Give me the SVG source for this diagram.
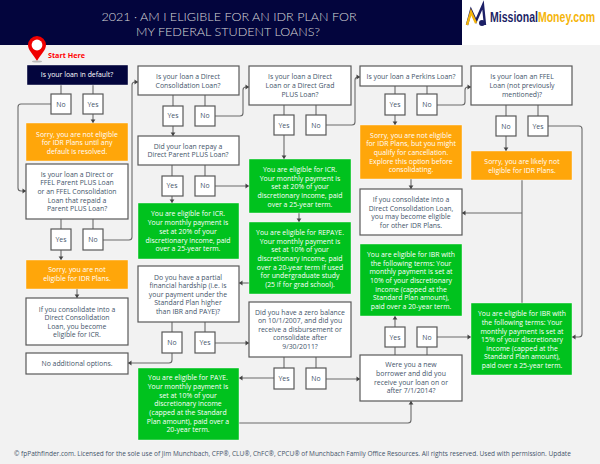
<svg xmlns="http://www.w3.org/2000/svg" width="600" height="464" viewBox="0 0 600 464">
<style>
text{font-family:"Open Sans","Noto Sans","DejaVu Sans",sans-serif;font-size:6.9px;text-anchor:middle;fill:#44546a}
.w{fill:#fff}
.q{fill:#fff;stroke:#595959;stroke-width:1.2}
.g{fill:#00c21e;stroke:#fff;stroke-width:.4}
.o{fill:#ffa60a;stroke:#fff;stroke-width:.4}
.n{fill:#03053d;stroke:#fff;stroke-width:.4}
#connectors path{fill:none;stroke:#6b6b6b;stroke-width:1.1;marker-end:url(#a)}
#connectors path.p{marker-end:none}
</style>
<defs>
<marker id="a" markerUnits="userSpaceOnUse" markerWidth="6" markerHeight="6" refX="5" refY="3" orient="auto"><path d="M1.5 .6L5 3L1.5 5.4Z" fill="#444"/></marker>
</defs>
<rect width="600" height="464" fill="#f2f2f2"/>
<g id="header">
<rect width="462" height="45" fill="#03053d"/>
<rect x="462" width="138" height="45" fill="#fff"/>
<text x="229" y="21" style="font-family:Lato,sans-serif;font-weight:300;font-size:12.6px;fill:#d9d9d9">2021 · AM I ELIGIBLE FOR AN IDR PLAN FOR</text>
<text x="228" y="35.5" style="font-family:Lato,sans-serif;font-weight:300;font-size:12.6px;fill:#d9d9d9">MY FEDERAL STUDENT LOANS?</text>
</g>
<g id="logo">
<path d="M467 25L471 10L476 21L483 5L485 25" fill="none" stroke="#1c1f66" stroke-width="2.4"/>
<path d="M467 25L471 12L476 23" fill="none" stroke="#f5b50a" stroke-width="2.4"/>
<circle cx="482" cy="23" r="3" fill="#1c1f66"/>
<text x="490" y="22" textLength="105" lengthAdjust="spacingAndGlyphs" style="font-family:'Liberation Sans Narrow','Liberation Sans',sans-serif;font-weight:700;font-size:14px;text-anchor:start;fill:#1c1f66">Missional<tspan style="fill:#f5b50a">Money.com</tspan></text>
</g>
<g id="start">
<path d="M37 61C33 54 28 50 28 45A9 9 0 0 1 46 45C46 50 41 54 37 61Z" fill="#f00000"/>
<circle cx="37" cy="45" r="5.4" fill="#fff"/>
<ellipse cx="37" cy="61.500" rx="5" ry="1" fill="#bbb"/>
<text x="48" y="57.500" style="text-anchor:start;fill:#f00;font-weight:700;font-size:7.200px">Start Here</text>
</g>
<g id="connectors">
<path class="p" d="M61 85V94M93 85V94"/>
<path d="M51 104H21Q18 104 18 107V188Q18 191 21 191H26"/>
<path d="M93 114V123"/>
<path class="p" d="M61 219V229M93 219V229"/>
<path d="M103 240H129Q132 240 132 237V85Q132 82 135 82H138"/>
<path d="M61 250V260"/>
<path d="M77 289V298"/>
<path class="p" d="M173 95V106M205 95V106"/>
<path d="M173 126V136"/>
<path class="p" d="M172 165V176M205 165V176"/>
<path d="M172 196V203"/>
<path d="M215 186H249"/>
<path d="M215 116H240Q243 116 243 113V90Q243 87 246 87H249"/>
<path class="p" d="M284 105V115M316 105V115"/>
<path d="M284 135V159"/>
<path d="M326 125H352Q355 125 355 122V80Q355 77 358 77H360"/>
<path d="M299 213V222"/>
<path d="M249 283H239"/>
<path class="p" d="M172 322V332M205 322V332"/>
<path d="M172 353V360Q172 363 169 363H128"/>
<path d="M215 343H249"/>
<path class="p" d="M284 357V368M316 357V368"/>
<path d="M274 378H239"/>
<path d="M326 379H360"/>
<path d="M239 423H408Q411 423 411 420V401"/>
<path class="p" d="M395 355V347M427 355V347"/>
<path d="M395 327V316"/>
<path d="M437 337H471"/>
<path class="p" d="M395 86V94M427 86V94"/>
<path d="M395 115V125"/>
<path d="M411 179V189"/>
<path d="M437 105H462Q465 105 465 102V90Q465 87 468 87H471"/>
<path class="p" d="M506 105V116M538 105V116"/>
<path d="M506 136V151"/>
<path d="M548 126H579Q582 126 582 129V334Q582 337 579 337H572"/>
<path class="p" d="M522 180V303"/>
<path d="M522 213H462"/>
</g>
<g id="n1"><rect class="n" x="27" y="65" width="101" height="20"/><text class="w" x="77" y="77">Is your loan in default?</text></g>
<g id="n2"><rect class="q" x="51" y="94" width="20" height="20"/><text x="61" y="106.500">No</text></g>
<g id="n3"><rect class="q" x="83" y="94" width="20" height="20"/><text x="93" y="106.500">Yes</text></g>
<g id="n4"><rect class="o" x="26" y="123" width="102" height="38"/><text class="w" x="77" y="136.500">Sorry, you are not eligible</text><text class="w" x="77" y="145">for IDR Plans until any</text><text class="w" x="77" y="153.500">default is resolved.</text></g>
<g id="n5"><rect class="q" x="26" y="164" width="102" height="55"/><text x="77" y="176.500">Is your loan a Direct or</text><text x="77" y="185">FFEL Parent PLUS Loan</text><text x="77" y="193.500">or an FFEL Consolidation</text><text x="77" y="202.500">Loan that repaid a</text><text x="77" y="211">Parent PLUS Loan?</text></g>
<g id="n6"><rect class="q" x="51" y="229" width="20" height="21"/><text x="61" y="242">Yes</text></g>
<g id="n7"><rect class="q" x="83" y="229" width="20" height="21"/><text x="93" y="242">No</text></g>
<g id="n8"><rect class="o" x="26" y="260" width="102" height="29"/><text class="w" x="77" y="272">Sorry, you are not</text><text class="w" x="77" y="280.500">eligible for IDR Plans.</text></g>
<g id="n9"><rect class="q" x="26" y="298" width="102" height="47"/><text x="77" y="311.500">If you consolidate into a</text><text x="77" y="320">Direct Consolidation</text><text x="77" y="328.500">Loan, you become</text><text x="77" y="337">eligible for ICR.</text></g>
<g id="n10"><rect class="q" x="26" y="353" width="102" height="21"/><text x="77" y="365.500">No additional options.</text></g>
<g id="n11"><rect class="q" x="138" y="66" width="101" height="29"/><text x="188" y="79">Is your loan a Direct</text><text x="188" y="87.500">Consolidation Loan?</text></g>
<g id="n12"><rect class="q" x="163" y="106" width="20" height="20"/><text x="173" y="118">Yes</text></g>
<g id="n13"><rect class="q" x="195" y="106" width="20" height="20"/><text x="205" y="118">No</text></g>
<g id="n14"><rect class="q" x="138" y="136" width="101" height="29"/><text x="188" y="148.500">Did your loan repay a</text><text x="188" y="157">Direct Parent PLUS Loan?</text></g>
<g id="n15"><rect class="q" x="162" y="176" width="21" height="20"/><text x="172" y="188">Yes</text></g>
<g id="n16"><rect class="q" x="195" y="176" width="20" height="20"/><text x="205" y="188">No</text></g>
<g id="n17"><rect class="g" x="138" y="203" width="101" height="56"/><text class="w" x="188" y="216">You are eligible for ICR.</text><text class="w" x="188" y="225">Your monthly payment is</text><text class="w" x="188" y="233.500">set at 20% of your</text><text class="w" x="188" y="242.500">discretionary income, paid</text><text class="w" x="188" y="251">over a 25-year term.</text></g>
<g id="n18"><rect class="q" x="138" y="266" width="101" height="56"/><text x="188" y="279.500">Do you have a partial</text><text x="188" y="288">financial hardship (i.e. is</text><text x="188" y="296.500">your payment under the</text><text x="188" y="305">Standard Plan higher</text><text x="188" y="313.500">than IBR and PAYE)?</text></g>
<g id="n19"><rect class="q" x="162" y="332" width="20" height="21"/><text x="172" y="345">No</text></g>
<g id="n20"><rect class="q" x="195" y="332" width="20" height="21"/><text x="205" y="345">Yes</text></g>
<g id="n21"><rect class="g" x="138" y="368" width="101" height="72"/><text class="w" x="188" y="380">You are eligible for PAYE.</text><text class="w" x="188" y="389">Your monthly payment is</text><text class="w" x="188" y="397.500">set at 10% of your</text><text class="w" x="188" y="406">discretionary income</text><text class="w" x="188" y="415">(capped at the Standard</text><text class="w" x="188" y="423.500">Plan amount), paid over a</text><text class="w" x="188" y="432">20-year term.</text></g>
<g id="n22"><rect class="q" x="249" y="66" width="102" height="39"/><text x="300" y="79">Is your loan a Direct</text><text x="300" y="87.500">Loan or a Direct Grad</text><text x="300" y="96.500">PLUS Loan?</text></g>
<g id="n23"><rect class="q" x="274" y="115" width="20" height="20"/><text x="284" y="128">Yes</text></g>
<g id="n24"><rect class="q" x="306" y="115" width="20" height="20"/><text x="316" y="128">No</text></g>
<g id="n25"><rect class="g" x="249" y="159" width="102" height="54"/><text class="w" x="300" y="171.500">You are eligible for ICR.</text><text class="w" x="300" y="180.500">Your monthly payment is</text><text class="w" x="300" y="189">set at 20% of your</text><text class="w" x="300" y="197.500">discretionary income, paid</text><text class="w" x="300" y="206.500">over a 25-year term.</text></g>
<g id="n26"><rect class="g" x="249" y="222" width="102" height="72"/><text class="w" x="300" y="234.500">You are eligible for REPAYE.</text><text class="w" x="300" y="243.500">Your monthly payment is</text><text class="w" x="300" y="252">set at 10% of your</text><text class="w" x="300" y="260.500">discretionary income, paid</text><text class="w" x="300" y="269.500">over a 20-year term if used</text><text class="w" x="300" y="278">for undergraduate study</text><text class="w" x="300" y="287">(25 if for grad school).</text></g>
<g id="n27"><rect class="q" x="249" y="302" width="102" height="55"/><text x="300" y="314.500">Did you have a zero balance</text><text x="300" y="323">on 10/1/2007, and did you</text><text x="300" y="331.500">receive a disbursement or</text><text x="300" y="340">consolidate after</text><text x="300" y="348.500">9/30/2011?</text></g>
<g id="n28"><rect class="q" x="274" y="368" width="20" height="21"/><text x="284" y="381">Yes</text></g>
<g id="n29"><rect class="q" x="306" y="368" width="20" height="21"/><text x="316" y="381">No</text></g>
<g id="n30"><rect class="q" x="360" y="66" width="102" height="20"/><text x="411" y="79">Is your loan a Perkins Loan?</text></g>
<g id="n31"><rect class="q" x="385" y="94" width="20" height="21"/><text x="395" y="107">Yes</text></g>
<g id="n32"><rect class="q" x="417" y="94" width="20" height="21"/><text x="427" y="107">No</text></g>
<g id="n33"><rect class="o" x="360" y="125" width="102" height="54"/><text class="w" x="411" y="137.500">Sorry, you are not eligible</text><text class="w" x="411" y="146">for IDR Plans, but you might</text><text class="w" x="411" y="155">qualify for cancellation.</text><text class="w" x="411" y="163.500">Explore this option before</text><text class="w" x="411" y="172">consolidating.</text></g>
<g id="n34"><rect class="q" x="360" y="189" width="102" height="46"/><text x="411" y="202">If you consolidate into a</text><text x="411" y="210.500">Direct Consolidation Loan,</text><text x="411" y="219">you may become eligible</text><text x="411" y="228">for other IDR Plans.</text></g>
<g id="n35"><rect class="g" x="360" y="244" width="102" height="72"/><text class="w" x="411" y="256.500">You are eligible for IBR with</text><text class="w" x="411" y="265.500">the following terms: Your</text><text class="w" x="411" y="274">monthly payment is set at</text><text class="w" x="411" y="283">10% of your discretionary</text><text class="w" x="411" y="291.500">income (capped at the</text><text class="w" x="411" y="300">Standard Plan amount),</text><text class="w" x="411" y="309">paid over a 20-year term.</text></g>
<g id="n36"><rect class="q" x="385" y="327" width="20" height="20"/><text x="395" y="339.500">Yes</text></g>
<g id="n37"><rect class="q" x="417" y="327" width="20" height="20"/><text x="427" y="339.500">No</text></g>
<g id="n38"><rect class="q" x="360" y="355" width="102" height="46"/><text x="411" y="367">Were you a new</text><text x="411" y="376">borrower and did you</text><text x="411" y="384.500">receive your loan on or</text><text x="411" y="393">after 7/1/2014?</text></g>
<g id="n39"><rect class="q" x="471" y="66" width="101" height="39"/><text x="522" y="79">Is your loan an FFEL</text><text x="522" y="87.500">Loan (not previously</text><text x="522" y="96.500">mentioned)?</text></g>
<g id="n40"><rect class="q" x="496" y="116" width="20" height="20"/><text x="506" y="128.500">No</text></g>
<g id="n41"><rect class="q" x="528" y="116" width="20" height="20"/><text x="538" y="128.500">Yes</text></g>
<g id="n42"><rect class="o" x="471" y="151" width="101" height="29"/><text class="w" x="522" y="164">Sorry, you are likely not</text><text class="w" x="522" y="172.500">eligible for IDR Plans.</text></g>
<g id="n43"><rect class="g" x="471" y="303" width="101" height="72"/><text class="w" x="522" y="316">You are eligible for IBR with</text><text class="w" x="522" y="324.500">the following terms: Your</text><text class="w" x="522" y="333.500">monthly payment is set at</text><text class="w" x="522" y="342">15% of your discretionary</text><text class="w" x="522" y="350.500">income (capped at the</text><text class="w" x="522" y="359">Standard Plan amount),</text><text class="w" x="522" y="368">paid over a 25-year term.</text></g>
<text id="footer" x="14" y="455.500" style="text-anchor:start;font-size:6.500px">© fpPathfinder.com. Licensed for the sole use of Jim Munchbach, CFP®, CLU®, ChFC®, CPCU® of Munchbach Family Office Resources. All rights reserved. Used with permission. Update</text>
</svg>
